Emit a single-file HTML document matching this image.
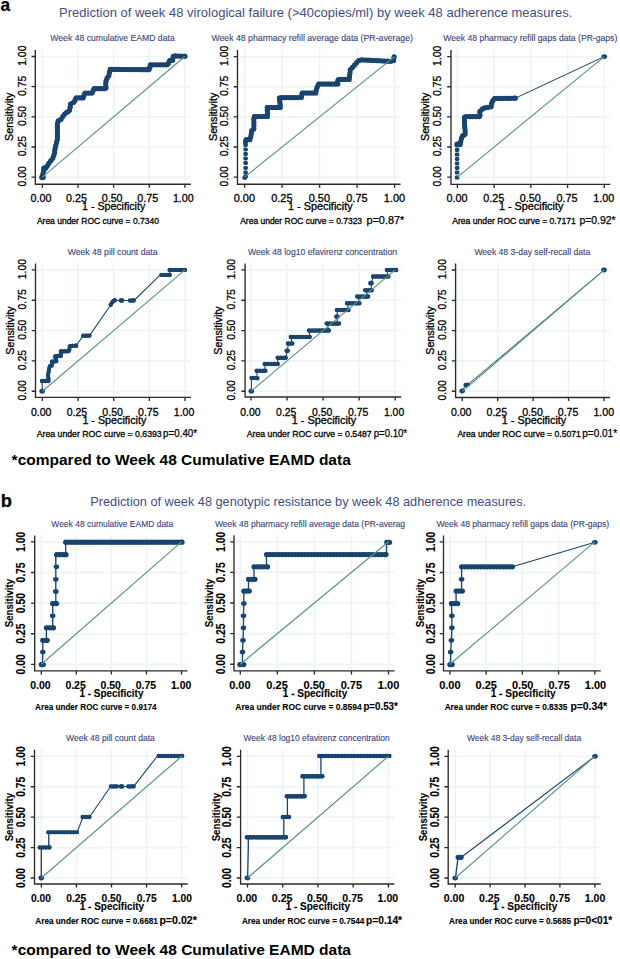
<!DOCTYPE html>
<html><head><meta charset="utf-8"><title>ROC curves</title><style>
html,body{margin:0;padding:0;background:#fff;}
svg{display:block;font-family:"Liberation Sans", sans-serif;}
</style></head><body>
<svg width="620" height="959" viewBox="0 0 620 959">
<rect width="620" height="959" fill="#fff"/>
<text x="0.6" y="11.3" font-size="18.2" fill="#000" stroke="#000" stroke-width="0.25" font-weight="bold" textLength="9.6" lengthAdjust="spacingAndGlyphs">a</text>
<text x="59" y="16.8" font-size="12.6" fill="#444e84" textLength="513.3" lengthAdjust="spacingAndGlyphs">Prediction of week 48 virological failure (&gt;40copies/ml) by week 48 adherence measures.</text>
<text x="11.6" y="465" font-size="14.9" fill="#000" font-weight="bold" textLength="339.2" lengthAdjust="spacingAndGlyphs">*compared to Week 48 Cumulative EAMD data</text>
<text x="0.8" y="506.9" font-size="18.3" fill="#000" stroke="#000" stroke-width="0.25" font-weight="bold">b</text>
<text x="90.3" y="506.2" font-size="12.6" fill="#444e84" textLength="435.8" lengthAdjust="spacingAndGlyphs">Prediction of week 48 genotypic resistance by week 48 adherence measures.</text>
<text x="11.6" y="954.8" font-size="14.9" fill="#000" font-weight="bold" textLength="339.4" lengthAdjust="spacingAndGlyphs">*compared to Week 48 Cumulative EAMD data</text>
<g>
<path d="M42.4 49.5V183.5M36 177.1H190.9M78.03 49.5V183.5M36 146.95H190.9M113.65 49.5V183.5M36 116.8H190.9M149.28 49.5V183.5M36 86.65H190.9M184.9 49.5V183.5M36 56.5H190.9" stroke="#eef4f6" stroke-width="1.6" fill="none"/>
<polyline points="42.5,177.2 43,173.5 44.1,168.8 46.5,167.4 48.5,163.8 51,160.5 52.8,158.2 54.4,153.9 55,149 56.1,144.1 57.4,139.2 57.4,134.3 57.4,129.6 57.3,124.7 57.8,121.2 60.7,119.7 62.7,116.7 65.7,112.8 69.2,111.3 70.1,107.8 70.6,103.9 74.6,101.9 75.6,97.9 83.5,97.9 84.4,93.1 92.6,93.1 93.5,88.7 106.1,88.7 105.6,82.9 106.6,79 109,75.2 110,69.4 149.5,69.7 150,64.8 167.9,64.8 169.4,60.5 172.7,60.5 173.2,55.9 185,56.3" fill="none" stroke="#19446e" stroke-width="4.3" stroke-linejoin="round" stroke-linecap="round"/>
<path d="M42.5 177.2h0M42.93 174.03h0M43.61 170.9h0M45 168.28h0M47.21 166.12h0M48.83 163.37h0M50.76 160.82h0M52.73 158.29h0M53.87 155.31h0M54.61 152.22h0M54.99 149.04h0M55.69 145.92h0M56.44 142.81h0M57.26 139.72h0M57.4 136.53h0M57.4 133.33h0M57.4 130.13h0M57.35 126.93h0M57.44 123.74h0M58.36 120.91h0M61.01 119.23h0M62.8 116.57h0M64.75 114.04h0M67.21 112.15h0M69.46 110.3h0M70.18 107.19h0M70.59 104.01h0M73.36 102.52h0M75.04 100.14h0M76.49 97.9h0M79.69 97.9h0M82.89 97.9h0M83.98 95.35h0M85.31 93.1h0M88.51 93.1h0M91.71 93.1h0M93.06 90.84h0M94.51 88.7h0M97.71 88.7h0M100.91 88.7h0M104.11 88.7h0M106 87.49h0M105.72 84.3h0M106.05 81.16h0M107.12 78.18h0M108.83 75.48h0M109.49 72.37h0M110.19 69.4h0M113.39 69.43h0M116.59 69.45h0M119.79 69.47h0M122.99 69.5h0M126.19 69.52h0M129.39 69.55h0M132.59 69.57h0M135.79 69.6h0M138.99 69.62h0M142.19 69.64h0M145.39 69.67h0M148.59 69.69h0M149.73 67.43h0M150.56 64.8h0M153.76 64.8h0M156.96 64.8h0M160.16 64.8h0M163.36 64.8h0M166.56 64.8h0M168.51 63.04h0M169.91 60.5h0M172.74 60.1h0M173.09 56.91h0M175.38 55.97h0M178.58 56.08h0M181.77 56.19h0M184.97 56.3h0M185 56.3h0" stroke="#19446e" stroke-width="5.2" stroke-linecap="round" fill="none"/>
<ellipse cx="42.5" cy="177.3" rx="3.3" ry="3" fill="#19446e"/>
<ellipse cx="44.6" cy="168.3" rx="3.3" ry="3" fill="#19446e"/>
<line x1="42.4" y1="177.1" x2="184.9" y2="56.5" stroke="#5d9589" stroke-width="1.2"/>
<path d="M35.3 50V184.2H190.9M31.5 177.1H35.3M42.4 184.2V187.8M31.5 146.95H35.3M78.03 184.2V187.8M31.5 116.8H35.3M113.65 184.2V187.8M31.5 86.65H35.3M149.28 184.2V187.8M31.5 56.5H35.3M184.9 184.2V187.8" stroke="#2a2a2a" stroke-width="1.35" fill="none"/>
<text transform="translate(25.6 176.3) rotate(-90)" font-size="10.9" fill="#000" stroke="#000" stroke-width="0.3" text-anchor="middle" textLength="20.2" lengthAdjust="spacingAndGlyphs">0.00</text>
<text transform="translate(25.6 146.15) rotate(-90)" font-size="10.9" fill="#000" stroke="#000" stroke-width="0.3" text-anchor="middle" textLength="20.2" lengthAdjust="spacingAndGlyphs">0.25</text>
<text transform="translate(25.6 116) rotate(-90)" font-size="10.9" fill="#000" stroke="#000" stroke-width="0.3" text-anchor="middle" textLength="20.2" lengthAdjust="spacingAndGlyphs">0.50</text>
<text transform="translate(25.6 85.85) rotate(-90)" font-size="10.9" fill="#000" stroke="#000" stroke-width="0.3" text-anchor="middle" textLength="20.2" lengthAdjust="spacingAndGlyphs">0.75</text>
<text transform="translate(25.6 55.7) rotate(-90)" font-size="10.9" fill="#000" stroke="#000" stroke-width="0.3" text-anchor="middle" textLength="20.2" lengthAdjust="spacingAndGlyphs">1.00</text>
<text transform="translate(13.4 116.8) rotate(-90)" font-size="10.9" fill="#000" stroke="#000" stroke-width="0.3" text-anchor="middle" textLength="48.4" lengthAdjust="spacingAndGlyphs">Sensitivity</text>
<text x="40.95" y="201.6" font-size="11" fill="#000" stroke="#000" stroke-width="0.3" text-anchor="middle" textLength="20.85" lengthAdjust="spacingAndGlyphs">0.00</text>
<text x="76.54" y="201.6" font-size="11" fill="#000" stroke="#000" stroke-width="0.3" text-anchor="middle" textLength="20.85" lengthAdjust="spacingAndGlyphs">0.25</text>
<text x="112.13" y="201.6" font-size="11" fill="#000" stroke="#000" stroke-width="0.3" text-anchor="middle" textLength="20.85" lengthAdjust="spacingAndGlyphs">0.50</text>
<text x="147.71" y="201.6" font-size="11" fill="#000" stroke="#000" stroke-width="0.3" text-anchor="middle" textLength="20.85" lengthAdjust="spacingAndGlyphs">0.75</text>
<text x="183.3" y="201.6" font-size="11" fill="#000" stroke="#000" stroke-width="0.3" text-anchor="middle" textLength="20.85" lengthAdjust="spacingAndGlyphs">1.00</text>
<text x="82.1" y="210" font-size="10.4" fill="#000" stroke="#000" stroke-width="0.3" textLength="63.1" lengthAdjust="spacingAndGlyphs">1 - Specificity</text>
<text x="36.9" y="223.9" font-size="8.9" fill="#000" stroke="#000" stroke-width="0.3" textLength="122" lengthAdjust="spacingAndGlyphs">Area under ROC curve = 0.7340</text>
<text x="50.3" y="41.4" font-size="9.6" fill="#3a4479" stroke="#3a4479" stroke-width="0.12" textLength="124.4" lengthAdjust="spacingAndGlyphs">Week 48 cumulative EAMD data</text>
</g>
<g>
<path d="M244.6 49.6V183.5M238.2 177.1H400.6M282.1 49.6V183.5M238.2 146.97H400.6M319.6 49.6V183.5M238.2 116.85H400.6M357.1 49.6V183.5M238.2 86.72H400.6M394.6 49.6V183.5M238.2 56.6H400.6" stroke="#eef4f6" stroke-width="1.6" fill="none"/>
<polyline points="245.5,141.8 245.5,139.7 250,139.7 251.1,135.2 251.7,130.6 253.9,129.5 253.9,116.5 267.5,116.5 267.5,111.5 266.9,107.5 280.5,107.5 279.9,102.4 279.3,97.7 301.8,97.5 301.8,93 315.9,93 316.5,88.5 318.7,84 337.9,84 337.9,79.4 349.2,79.4 349.8,74.4 350.3,69.8 354.3,65.3 358.2,60.8 360.8,59.8 390.2,61.3 393.5,60.9 394.1,56.9" fill="none" stroke="#19446e" stroke-width="4.3" stroke-linejoin="round" stroke-linecap="round"/>
<path d="M245.5 141.8h0M246.6 139.7h0M249.8 139.7h0M250.71 136.79h0M251.3 133.65h0M251.81 130.54h0M253.9 128.63h0M253.9 125.43h0M253.9 122.23h0M253.9 119.03h0M254.57 116.5h0M257.77 116.5h0M260.97 116.5h0M264.17 116.5h0M267.37 116.5h0M267.5 113.43h0M267.31 110.25h0M267.32 107.5h0M270.52 107.5h0M273.72 107.5h0M276.92 107.5h0M280.12 107.5h0M280.17 104.7h0M279.79 101.52h0M279.38 98.34h0M281.85 97.68h0M285.05 97.65h0M288.25 97.62h0M291.45 97.59h0M294.65 97.56h0M297.85 97.54h0M301.05 97.51h0M301.8 95.05h0M302.95 93h0M306.15 93h0M309.35 93h0M312.55 93h0M315.75 93h0M316.3 89.98h0M317.25 86.96h0M318.66 84.09h0M321.8 84h0M325 84h0M328.2 84h0M331.4 84h0M334.6 84h0M337.8 84h0M337.9 80.9h0M339.6 79.4h0M342.8 79.4h0M346 79.4h0M349.2 79.4h0M349.58 76.22h0M349.95 73.04h0M350.29 69.86h0M352.38 67.45h0M354.51 65.06h0M356.6 62.64h0M358.91 60.53h0M361.98 59.86h0M365.17 60.02h0M368.37 60.19h0M371.56 60.35h0M374.76 60.51h0M377.95 60.68h0M381.15 60.84h0M384.35 61h0M387.54 61.16h0M390.73 61.24h0M393.56 60.49h0M394.04 57.33h0M394.1 56.9h0" stroke="#19446e" stroke-width="5.2" stroke-linecap="round" fill="none"/>
<rect x="242.55" y="175.8" width="4.5" height="4.0" rx="1.4" fill="#19446e"/>
<rect x="243.55" y="174.2" width="4.5" height="4.0" rx="1.4" fill="#19446e"/>
<rect x="243.35" y="170.5" width="4.5" height="4.0" rx="1.4" fill="#19446e"/>
<rect x="243.35" y="165.9" width="4.5" height="4.0" rx="1.4" fill="#19446e"/>
<rect x="243.35" y="161.1" width="4.5" height="4.0" rx="1.4" fill="#19446e"/>
<rect x="243.35" y="156.4" width="4.5" height="4.0" rx="1.4" fill="#19446e"/>
<rect x="243.35" y="152" width="4.5" height="4.0" rx="1.4" fill="#19446e"/>
<rect x="243.35" y="147.5" width="4.5" height="4.0" rx="1.4" fill="#19446e"/>
<rect x="243.35" y="143" width="4.5" height="4.0" rx="1.4" fill="#19446e"/>
<line x1="244.6" y1="177.1" x2="394.6" y2="56.6" stroke="#5d9589" stroke-width="1.2"/>
<path d="M237.5 50.1V184.2H400.6M233.7 177.1H237.5M244.6 184.2V187.8M233.7 146.97H237.5M282.1 184.2V187.8M233.7 116.85H237.5M319.6 184.2V187.8M233.7 86.72H237.5M357.1 184.2V187.8M233.7 56.6H237.5M394.6 184.2V187.8" stroke="#2a2a2a" stroke-width="1.35" fill="none"/>
<text transform="translate(228.4 176.3) rotate(-90)" font-size="10.9" fill="#000" stroke="#000" stroke-width="0.3" text-anchor="middle" textLength="20.2" lengthAdjust="spacingAndGlyphs">0.00</text>
<text transform="translate(228.4 146.17) rotate(-90)" font-size="10.9" fill="#000" stroke="#000" stroke-width="0.3" text-anchor="middle" textLength="20.2" lengthAdjust="spacingAndGlyphs">0.25</text>
<text transform="translate(228.4 116.05) rotate(-90)" font-size="10.9" fill="#000" stroke="#000" stroke-width="0.3" text-anchor="middle" textLength="20.2" lengthAdjust="spacingAndGlyphs">0.50</text>
<text transform="translate(228.4 85.92) rotate(-90)" font-size="10.9" fill="#000" stroke="#000" stroke-width="0.3" text-anchor="middle" textLength="20.2" lengthAdjust="spacingAndGlyphs">0.75</text>
<text transform="translate(228.4 55.8) rotate(-90)" font-size="10.9" fill="#000" stroke="#000" stroke-width="0.3" text-anchor="middle" textLength="20.2" lengthAdjust="spacingAndGlyphs">1.00</text>
<text transform="translate(217.1 116.85) rotate(-90)" font-size="10.9" fill="#000" stroke="#000" stroke-width="0.3" text-anchor="middle" textLength="48.4" lengthAdjust="spacingAndGlyphs">Sensitivity</text>
<text x="244.35" y="201.6" font-size="11" fill="#000" stroke="#000" stroke-width="0.3" text-anchor="middle" textLength="21.3" lengthAdjust="spacingAndGlyphs">0.00</text>
<text x="281.88" y="201.6" font-size="11" fill="#000" stroke="#000" stroke-width="0.3" text-anchor="middle" textLength="21.3" lengthAdjust="spacingAndGlyphs">0.25</text>
<text x="319.4" y="201.6" font-size="11" fill="#000" stroke="#000" stroke-width="0.3" text-anchor="middle" textLength="21.3" lengthAdjust="spacingAndGlyphs">0.50</text>
<text x="356.93" y="201.6" font-size="11" fill="#000" stroke="#000" stroke-width="0.3" text-anchor="middle" textLength="21.3" lengthAdjust="spacingAndGlyphs">0.75</text>
<text x="394.45" y="201.6" font-size="11" fill="#000" stroke="#000" stroke-width="0.3" text-anchor="middle" textLength="21.3" lengthAdjust="spacingAndGlyphs">1.00</text>
<text x="288" y="210" font-size="10.4" fill="#000" stroke="#000" stroke-width="0.3" textLength="64.6" lengthAdjust="spacingAndGlyphs">1 - Specificity</text>
<text x="240.2" y="224" font-size="8.9" fill="#000" stroke="#000" stroke-width="0.3" textLength="121.9" lengthAdjust="spacingAndGlyphs">Area under ROC curve = 0.7323</text>
<text x="366.5" y="224" font-size="10.2" fill="#000" stroke="#000" stroke-width="0.25" textLength="37.7" lengthAdjust="spacingAndGlyphs">p=0.87*</text>
<text x="211.4" y="41.4" font-size="9.6" fill="#3a4479" stroke="#3a4479" stroke-width="0.12" textLength="201.6" lengthAdjust="spacingAndGlyphs">Week 48 pharmacy refill average data (PR-average)</text>
</g>
<g>
<path d="M457.4 49.6V183.6M451.7 177.1H610.3M494.12 49.6V183.6M451.7 146.97H610.3M530.85 49.6V183.6M451.7 116.85H610.3M567.57 49.6V183.6M451.7 86.72H610.3M604.3 49.6V183.6M451.7 56.6H610.3" stroke="#eef4f6" stroke-width="1.6" fill="none"/>
<polyline points="515.3,98.2 604.3,56.6" fill="none" stroke="#19446e" stroke-width="1" stroke-linejoin="round" stroke-linecap="round"/>
<polyline points="457,144.2 460.3,144.4 460.9,140.8 462.1,136 465.1,134.8 465.1,129.9 464.5,125.1 464.5,116.6 480.2,116.6 479.6,111.8 483.3,108.1 491.1,106.9 491.7,102.7 494.2,98.5 515.3,98.2" fill="none" stroke="#19446e" stroke-width="4.3" stroke-linejoin="round" stroke-linecap="round"/>
<path d="M457 144.2h0M460.19 144.39h0M460.81 141.35h0M461.54 138.23h0M462.93 135.67h0M465.1 133.93h0M465.1 130.73h0M464.81 127.55h0M464.5 124.37h0M464.5 121.17h0M464.5 117.97h0M466.33 116.6h0M469.53 116.6h0M472.73 116.6h0M475.93 116.6h0M479.13 116.6h0M479.94 114.49h0M479.95 111.45h0M482.21 109.19h0M484.94 107.85h0M488.1 107.36h0M491.12 106.74h0M491.58 103.57h0M492.89 100.7h0M494.84 98.49h0M498.04 98.45h0M501.24 98.4h0M504.43 98.35h0M507.63 98.31h0M510.83 98.26h0M514.03 98.22h0M515.3 98.2h0" stroke="#19446e" stroke-width="5.2" stroke-linecap="round" fill="none"/>
<rect x="454.85" y="175.6" width="4.5" height="4.0" rx="1.4" fill="#19446e"/>
<rect x="454.85" y="170.6" width="4.5" height="4.0" rx="1.4" fill="#19446e"/>
<rect x="454.85" y="165.9" width="4.5" height="4.0" rx="1.4" fill="#19446e"/>
<rect x="454.85" y="161.4" width="4.5" height="4.0" rx="1.4" fill="#19446e"/>
<rect x="454.85" y="157" width="4.5" height="4.0" rx="1.4" fill="#19446e"/>
<rect x="454.85" y="152.6" width="4.5" height="4.0" rx="1.4" fill="#19446e"/>
<rect x="454.85" y="148.1" width="4.5" height="4.0" rx="1.4" fill="#19446e"/>
<rect x="454.85" y="143.6" width="4.5" height="4.0" rx="1.4" fill="#19446e"/>
<ellipse cx="604.3" cy="56.6" rx="2.8" ry="2.4" fill="#19446e"/>
<line x1="457.4" y1="177.1" x2="604.3" y2="56.6" stroke="#5d9589" stroke-width="1.2"/>
<path d="M451 50.1V184.3H610.3M447.2 177.1H451M457.4 184.3V187.9M447.2 146.97H451M494.12 184.3V187.9M447.2 116.85H451M530.85 184.3V187.9M447.2 86.72H451M567.57 184.3V187.9M447.2 56.6H451M604.3 184.3V187.9" stroke="#2a2a2a" stroke-width="1.35" fill="none"/>
<text transform="translate(440.6 176.3) rotate(-90)" font-size="10.9" fill="#000" stroke="#000" stroke-width="0.3" text-anchor="middle" textLength="20.2" lengthAdjust="spacingAndGlyphs">0.00</text>
<text transform="translate(440.6 146.17) rotate(-90)" font-size="10.9" fill="#000" stroke="#000" stroke-width="0.3" text-anchor="middle" textLength="20.2" lengthAdjust="spacingAndGlyphs">0.25</text>
<text transform="translate(440.6 116.05) rotate(-90)" font-size="10.9" fill="#000" stroke="#000" stroke-width="0.3" text-anchor="middle" textLength="20.2" lengthAdjust="spacingAndGlyphs">0.50</text>
<text transform="translate(440.6 85.92) rotate(-90)" font-size="10.9" fill="#000" stroke="#000" stroke-width="0.3" text-anchor="middle" textLength="20.2" lengthAdjust="spacingAndGlyphs">0.75</text>
<text transform="translate(440.6 55.8) rotate(-90)" font-size="10.9" fill="#000" stroke="#000" stroke-width="0.3" text-anchor="middle" textLength="20.2" lengthAdjust="spacingAndGlyphs">1.00</text>
<text transform="translate(428.7 116.85) rotate(-90)" font-size="10.9" fill="#000" stroke="#000" stroke-width="0.3" text-anchor="middle" textLength="48.4" lengthAdjust="spacingAndGlyphs">Sensitivity</text>
<text x="457" y="201.6" font-size="11" fill="#000" stroke="#000" stroke-width="0.3" text-anchor="middle" textLength="21.05" lengthAdjust="spacingAndGlyphs">0.00</text>
<text x="493.69" y="201.6" font-size="11" fill="#000" stroke="#000" stroke-width="0.3" text-anchor="middle" textLength="21.05" lengthAdjust="spacingAndGlyphs">0.25</text>
<text x="530.38" y="201.6" font-size="11" fill="#000" stroke="#000" stroke-width="0.3" text-anchor="middle" textLength="21.05" lengthAdjust="spacingAndGlyphs">0.50</text>
<text x="567.06" y="201.6" font-size="11" fill="#000" stroke="#000" stroke-width="0.3" text-anchor="middle" textLength="21.05" lengthAdjust="spacingAndGlyphs">0.75</text>
<text x="603.75" y="201.6" font-size="11" fill="#000" stroke="#000" stroke-width="0.3" text-anchor="middle" textLength="21.05" lengthAdjust="spacingAndGlyphs">1.00</text>
<text x="498.9" y="209.8" font-size="10.4" fill="#000" stroke="#000" stroke-width="0.3" textLength="64.5" lengthAdjust="spacingAndGlyphs">1 - Specificity</text>
<text x="452.2" y="224.1" font-size="8.9" fill="#000" stroke="#000" stroke-width="0.3" textLength="123.7" lengthAdjust="spacingAndGlyphs">Area under ROC curve = 0.7171</text>
<text x="579.4" y="224.1" font-size="10.2" fill="#000" stroke="#000" stroke-width="0.25" textLength="36.3" lengthAdjust="spacingAndGlyphs">p=0.92*</text>
<text x="443.2" y="41.4" font-size="9.6" fill="#3a4479" stroke="#3a4479" stroke-width="0.12" textLength="174.1" lengthAdjust="spacingAndGlyphs">Week 48 pharmacy refill gaps data (PR-gaps)</text>
</g>
<g>
<path d="M42.4 262.9V396.6M36.2 391.2H191M78.05 262.9V396.6M36.2 360.88H191M113.7 262.9V396.6M36.2 330.55H191M149.35 262.9V396.6M36.2 300.22H191M185 262.9V396.6M36.2 269.9H191" stroke="#eef4f6" stroke-width="1.6" fill="none"/>
<polyline points="42.2,391.2 42.2,381" fill="none" stroke="#19446e" stroke-width="1.05" stroke-linejoin="round" stroke-linecap="round"/>
<polyline points="76.2,345.8 83.2,335.6" fill="none" stroke="#19446e" stroke-width="1.05" stroke-linejoin="round" stroke-linecap="round"/>
<polyline points="89.5,335.6 110.7,305" fill="none" stroke="#19446e" stroke-width="1.05" stroke-linejoin="round" stroke-linecap="round"/>
<polyline points="114,300.5 134,300.5 159.8,275.3" fill="none" stroke="#19446e" stroke-width="1.05" stroke-linejoin="round" stroke-linecap="round"/>
<polyline points="169.7,274.9 169.6,269.9" fill="none" stroke="#19446e" stroke-width="1.05" stroke-linejoin="round" stroke-linecap="round"/>
<polyline points="41.9,381 48.8,381 48,375.5 48.8,370.8 49.6,366.1 51.9,366.1 51.9,361.4 56.6,361.4 55,356 61.3,356 60.5,351.3 69.1,351.3 69.9,345.8 76.2,345.8" fill="none" stroke="#19446e" stroke-width="3.6" stroke-linejoin="round" stroke-linecap="round"/>
<path d="M41.9 381h0M45.1 381h0M48.3 381h0M48.41 378.33h0M48.06 375.16h0M48.59 372.01h0M49.13 368.85h0M50.01 366.1h0M51.9 364.79h0M51.9 361.59h0M54.91 361.4h0M56.17 359.96h0M55.26 356.89h0M57.27 356h0M60.47 356h0M60.9 353.66h0M61.31 351.3h0M64.51 351.3h0M67.71 351.3h0M69.36 349.51h0M69.82 346.34h0M72.55 345.8h0M75.75 345.8h0M76.2 345.8h0" stroke="#19446e" stroke-width="4.4" stroke-linecap="round" fill="none"/>
<polyline points="83.2,335.6 89.5,335.6" fill="none" stroke="#19446e" stroke-width="3.6" stroke-linejoin="round" stroke-linecap="round"/>
<path d="M83.2 335.6h0M86.4 335.6h0M89.5 335.6h0" stroke="#19446e" stroke-width="4.4" stroke-linecap="round" fill="none"/>
<polyline points="110.7,304.8 113.3,300.6 114.8,300.4" fill="none" stroke="#19446e" stroke-width="3.6" stroke-linejoin="round" stroke-linecap="round"/>
<path d="M110.7 304.8h0M112.38 302.08h0M114.75 300.41h0M114.8 300.4h0" stroke="#19446e" stroke-width="4.4" stroke-linecap="round" fill="none"/>
<polyline points="129.9,300.5 133.7,300.5" fill="none" stroke="#19446e" stroke-width="3.6" stroke-linejoin="round" stroke-linecap="round"/>
<path d="M129.9 300.5h0M133.1 300.5h0M133.7 300.5h0" stroke="#19446e" stroke-width="4.4" stroke-linecap="round" fill="none"/>
<polyline points="161.3,274.9 169.7,274.9" fill="none" stroke="#19446e" stroke-width="3.6" stroke-linejoin="round" stroke-linecap="round"/>
<path d="M161.3 274.9h0M164.5 274.9h0M167.7 274.9h0M169.7 274.9h0" stroke="#19446e" stroke-width="4.4" stroke-linecap="round" fill="none"/>
<polyline points="169.6,269.9 185,269.9" fill="none" stroke="#19446e" stroke-width="3.6" stroke-linejoin="round" stroke-linecap="round"/>
<path d="M169.6 269.9h0M172.8 269.9h0M176 269.9h0M179.2 269.9h0M182.4 269.9h0M185 269.9h0" stroke="#19446e" stroke-width="4.4" stroke-linecap="round" fill="none"/>
<ellipse cx="42.2" cy="391.2" rx="2.8" ry="2.4" fill="#19446e"/>
<ellipse cx="121.5" cy="300.5" rx="2.8" ry="2.4" fill="#19446e"/>
<line x1="42.4" y1="391.2" x2="185" y2="269.9" stroke="#5d9589" stroke-width="1.2"/>
<path d="M35.5 263.4V397.3H191M31.7 391.2H35.5M42.4 397.3V400.9M31.7 360.88H35.5M78.05 397.3V400.9M31.7 330.55H35.5M113.7 397.3V400.9M31.7 300.22H35.5M149.35 397.3V400.9M31.7 269.9H35.5M185 397.3V400.9" stroke="#2a2a2a" stroke-width="1.35" fill="none"/>
<text transform="translate(26.1 390.4) rotate(-90)" font-size="10.9" fill="#000" stroke="#000" stroke-width="0.3" text-anchor="middle" textLength="20.2" lengthAdjust="spacingAndGlyphs">0.00</text>
<text transform="translate(26.1 360.07) rotate(-90)" font-size="10.9" fill="#000" stroke="#000" stroke-width="0.3" text-anchor="middle" textLength="20.2" lengthAdjust="spacingAndGlyphs">0.25</text>
<text transform="translate(26.1 329.75) rotate(-90)" font-size="10.9" fill="#000" stroke="#000" stroke-width="0.3" text-anchor="middle" textLength="20.2" lengthAdjust="spacingAndGlyphs">0.50</text>
<text transform="translate(26.1 299.42) rotate(-90)" font-size="10.9" fill="#000" stroke="#000" stroke-width="0.3" text-anchor="middle" textLength="20.2" lengthAdjust="spacingAndGlyphs">0.75</text>
<text transform="translate(26.1 269.1) rotate(-90)" font-size="10.9" fill="#000" stroke="#000" stroke-width="0.3" text-anchor="middle" textLength="20.2" lengthAdjust="spacingAndGlyphs">1.00</text>
<text transform="translate(14.2 330.55) rotate(-90)" font-size="10.9" fill="#000" stroke="#000" stroke-width="0.3" text-anchor="middle" textLength="48.4" lengthAdjust="spacingAndGlyphs">Sensitivity</text>
<text x="41.2" y="415.9" font-size="11" fill="#000" stroke="#000" stroke-width="0.3" text-anchor="middle" textLength="20.55" lengthAdjust="spacingAndGlyphs">0.00</text>
<text x="76.91" y="415.9" font-size="11" fill="#000" stroke="#000" stroke-width="0.3" text-anchor="middle" textLength="20.55" lengthAdjust="spacingAndGlyphs">0.25</text>
<text x="112.63" y="415.9" font-size="11" fill="#000" stroke="#000" stroke-width="0.3" text-anchor="middle" textLength="20.55" lengthAdjust="spacingAndGlyphs">0.50</text>
<text x="148.34" y="415.9" font-size="11" fill="#000" stroke="#000" stroke-width="0.3" text-anchor="middle" textLength="20.55" lengthAdjust="spacingAndGlyphs">0.75</text>
<text x="184.05" y="415.9" font-size="11" fill="#000" stroke="#000" stroke-width="0.3" text-anchor="middle" textLength="20.55" lengthAdjust="spacingAndGlyphs">1.00</text>
<text x="82.4" y="424.3" font-size="10.4" fill="#000" stroke="#000" stroke-width="0.3" textLength="63.9" lengthAdjust="spacingAndGlyphs">1 - Specificity</text>
<text x="36.8" y="437.1" font-size="8.9" fill="#000" stroke="#000" stroke-width="0.3" textLength="124.9" lengthAdjust="spacingAndGlyphs">Area under ROC curve = 0.6393</text>
<text x="163.1" y="437.1" font-size="10.2" fill="#000" stroke="#000" stroke-width="0.25" textLength="34" lengthAdjust="spacingAndGlyphs">p=0.40*</text>
<text x="67.7" y="255.4" font-size="9.6" fill="#3a4479" stroke="#3a4479" stroke-width="0.12" textLength="89.8" lengthAdjust="spacingAndGlyphs">Week 48 pill count data</text>
</g>
<g>
<path d="M251 262.9V396.3M245.8 391.2H401.2M287.05 262.9V396.3M245.8 360.88H401.2M323.1 262.9V396.3M245.8 330.55H401.2M359.15 262.9V396.3M245.8 300.22H401.2M395.2 262.9V396.3M245.8 269.9H401.2" stroke="#eef4f6" stroke-width="1.6" fill="none"/>
<polyline points="251.3,391.2 251.6,377.7 257,377.9 257,370.8 265,370.8 265,363.9 277.7,363.9 277.7,357.8 285.7,357.8 287.2,350.8 288.5,343.5 291.5,343.5 291.5,337 309.5,337 309.5,330.5 328,330.5 328,323.6 337.5,323.6 336.9,316.6 337.5,310.1 348,310.1 348,303.3 358.5,303.3 358.5,296.6 366.5,296.6 366.5,290.2 371.5,290.2 371,283.2 373.5,276.4 387.5,276.4 387.5,269.9" fill="none" stroke="#19446e" stroke-width="1.05" stroke-linejoin="round" stroke-linecap="round"/>
<polyline points="251.6,377.9 257.4,378.2" fill="none" stroke="#19446e" stroke-width="3.6" stroke-linejoin="round" stroke-linecap="round"/>
<path d="M251.6 377.9h0M254.8 378.07h0M257.4 378.2h0" stroke="#19446e" stroke-width="4.5" stroke-linecap="round" fill="none"/>
<polyline points="256.7,370.8 265.4,370.8" fill="none" stroke="#19446e" stroke-width="3.6" stroke-linejoin="round" stroke-linecap="round"/>
<path d="M256.7 370.8h0M259.9 370.8h0M263.1 370.8h0M265.4 370.8h0" stroke="#19446e" stroke-width="4.5" stroke-linecap="round" fill="none"/>
<polyline points="264.7,363.9 277.7,363.9" fill="none" stroke="#19446e" stroke-width="3.6" stroke-linejoin="round" stroke-linecap="round"/>
<path d="M264.7 363.9h0M267.9 363.9h0M271.1 363.9h0M274.3 363.9h0M277.5 363.9h0M277.7 363.9h0" stroke="#19446e" stroke-width="4.5" stroke-linecap="round" fill="none"/>
<polyline points="277.7,357.8 285.7,357.8" fill="none" stroke="#19446e" stroke-width="3.6" stroke-linejoin="round" stroke-linecap="round"/>
<path d="M277.7 357.8h0M280.9 357.8h0M284.1 357.8h0M285.7 357.8h0" stroke="#19446e" stroke-width="4.5" stroke-linecap="round" fill="none"/>
<polyline points="287.9,343.5 292.3,343.5" fill="none" stroke="#19446e" stroke-width="3.6" stroke-linejoin="round" stroke-linecap="round"/>
<path d="M287.9 343.5h0M291.1 343.5h0M292.3 343.5h0" stroke="#19446e" stroke-width="4.5" stroke-linecap="round" fill="none"/>
<polyline points="290.8,337 309.7,337" fill="none" stroke="#19446e" stroke-width="3.6" stroke-linejoin="round" stroke-linecap="round"/>
<path d="M290.8 337h0M294 337h0M297.2 337h0M300.4 337h0M303.6 337h0M306.8 337h0M309.7 337h0" stroke="#19446e" stroke-width="4.5" stroke-linecap="round" fill="none"/>
<polyline points="309,330.5 328.9,330.4" fill="none" stroke="#19446e" stroke-width="3.6" stroke-linejoin="round" stroke-linecap="round"/>
<path d="M309 330.5h0M312.2 330.48h0M315.4 330.47h0M318.6 330.45h0M321.8 330.44h0M325 330.42h0M328.2 330.4h0M328.9 330.4h0" stroke="#19446e" stroke-width="4.5" stroke-linecap="round" fill="none"/>
<polyline points="326.7,323.6 339,323.6" fill="none" stroke="#19446e" stroke-width="3.6" stroke-linejoin="round" stroke-linecap="round"/>
<path d="M326.7 323.6h0M329.9 323.6h0M333.1 323.6h0M336.3 323.6h0M339 323.6h0" stroke="#19446e" stroke-width="4.5" stroke-linecap="round" fill="none"/>
<polyline points="336.9,310.1 348.5,310.1" fill="none" stroke="#19446e" stroke-width="3.6" stroke-linejoin="round" stroke-linecap="round"/>
<path d="M336.9 310.1h0M340.1 310.1h0M343.3 310.1h0M346.5 310.1h0M348.5 310.1h0" stroke="#19446e" stroke-width="4.5" stroke-linecap="round" fill="none"/>
<polyline points="347,303.3 359.4,303.3" fill="none" stroke="#19446e" stroke-width="3.6" stroke-linejoin="round" stroke-linecap="round"/>
<path d="M347 303.3h0M350.2 303.3h0M353.4 303.3h0M356.6 303.3h0M359.4 303.3h0" stroke="#19446e" stroke-width="4.5" stroke-linecap="round" fill="none"/>
<polyline points="357.2,296.6 368.1,296.6" fill="none" stroke="#19446e" stroke-width="3.6" stroke-linejoin="round" stroke-linecap="round"/>
<path d="M357.2 296.6h0M360.4 296.6h0M363.6 296.6h0M366.8 296.6h0M368.1 296.6h0" stroke="#19446e" stroke-width="4.5" stroke-linecap="round" fill="none"/>
<polyline points="365.2,290.2 371.7,290.2" fill="none" stroke="#19446e" stroke-width="3.6" stroke-linejoin="round" stroke-linecap="round"/>
<path d="M365.2 290.2h0M368.4 290.2h0M371.6 290.2h0M371.7 290.2h0" stroke="#19446e" stroke-width="4.5" stroke-linecap="round" fill="none"/>
<polyline points="373.1,276.4 388.4,276.4" fill="none" stroke="#19446e" stroke-width="3.6" stroke-linejoin="round" stroke-linecap="round"/>
<path d="M373.1 276.4h0M376.3 276.4h0M379.5 276.4h0M382.7 276.4h0M385.9 276.4h0M388.4 276.4h0" stroke="#19446e" stroke-width="4.5" stroke-linecap="round" fill="none"/>
<polyline points="386.9,269.9 396.2,269.9" fill="none" stroke="#19446e" stroke-width="3.6" stroke-linejoin="round" stroke-linecap="round"/>
<path d="M386.9 269.9h0M390.1 269.9h0M393.3 269.9h0M396.2 269.9h0" stroke="#19446e" stroke-width="4.5" stroke-linecap="round" fill="none"/>
<ellipse cx="251.3" cy="391.2" rx="2.8" ry="2.4" fill="#19446e"/>
<ellipse cx="287.2" cy="350.8" rx="2.8" ry="2.4" fill="#19446e"/>
<ellipse cx="336.9" cy="316.6" rx="2.8" ry="2.4" fill="#19446e"/>
<ellipse cx="371" cy="283.2" rx="2.8" ry="2.4" fill="#19446e"/>
<line x1="251" y1="391.2" x2="395.2" y2="269.9" stroke="#5d9589" stroke-width="1.2"/>
<path d="M245.1 263.4V397H401.2M241.3 391.2H245.1M251 397V400.6M241.3 360.88H245.1M287.05 397V400.6M241.3 330.55H245.1M323.1 397V400.6M241.3 300.22H245.1M359.15 397V400.6M241.3 269.9H245.1M395.2 397V400.6" stroke="#2a2a2a" stroke-width="1.35" fill="none"/>
<text transform="translate(234.5 390.4) rotate(-90)" font-size="10.9" fill="#000" stroke="#000" stroke-width="0.3" text-anchor="middle" textLength="20.2" lengthAdjust="spacingAndGlyphs">0.00</text>
<text transform="translate(234.5 360.07) rotate(-90)" font-size="10.9" fill="#000" stroke="#000" stroke-width="0.3" text-anchor="middle" textLength="20.2" lengthAdjust="spacingAndGlyphs">0.25</text>
<text transform="translate(234.5 329.75) rotate(-90)" font-size="10.9" fill="#000" stroke="#000" stroke-width="0.3" text-anchor="middle" textLength="20.2" lengthAdjust="spacingAndGlyphs">0.50</text>
<text transform="translate(234.5 299.42) rotate(-90)" font-size="10.9" fill="#000" stroke="#000" stroke-width="0.3" text-anchor="middle" textLength="20.2" lengthAdjust="spacingAndGlyphs">0.75</text>
<text transform="translate(234.5 269.1) rotate(-90)" font-size="10.9" fill="#000" stroke="#000" stroke-width="0.3" text-anchor="middle" textLength="20.2" lengthAdjust="spacingAndGlyphs">1.00</text>
<text transform="translate(221.9 330.55) rotate(-90)" font-size="10.9" fill="#000" stroke="#000" stroke-width="0.3" text-anchor="middle" textLength="48.4" lengthAdjust="spacingAndGlyphs">Sensitivity</text>
<text x="250.35" y="415.9" font-size="11" fill="#000" stroke="#000" stroke-width="0.3" text-anchor="middle" textLength="20.3" lengthAdjust="spacingAndGlyphs">0.00</text>
<text x="286.27" y="415.9" font-size="11" fill="#000" stroke="#000" stroke-width="0.3" text-anchor="middle" textLength="20.3" lengthAdjust="spacingAndGlyphs">0.25</text>
<text x="322.2" y="415.9" font-size="11" fill="#000" stroke="#000" stroke-width="0.3" text-anchor="middle" textLength="20.3" lengthAdjust="spacingAndGlyphs">0.50</text>
<text x="358.12" y="415.9" font-size="11" fill="#000" stroke="#000" stroke-width="0.3" text-anchor="middle" textLength="20.3" lengthAdjust="spacingAndGlyphs">0.75</text>
<text x="394.05" y="415.9" font-size="11" fill="#000" stroke="#000" stroke-width="0.3" text-anchor="middle" textLength="20.3" lengthAdjust="spacingAndGlyphs">1.00</text>
<text x="291.8" y="424.3" font-size="10.4" fill="#000" stroke="#000" stroke-width="0.3" textLength="64.5" lengthAdjust="spacingAndGlyphs">1 - Specificity</text>
<text x="246.8" y="437.1" font-size="8.9" fill="#000" stroke="#000" stroke-width="0.3" textLength="124.9" lengthAdjust="spacingAndGlyphs">Area under ROC curve = 0.5487</text>
<text x="373.7" y="437.1" font-size="10.2" fill="#000" stroke="#000" stroke-width="0.25" textLength="33.4" lengthAdjust="spacingAndGlyphs">p=0.10*</text>
<text x="247.9" y="254.8" font-size="9.6" fill="#3a4479" stroke="#3a4479" stroke-width="0.12" textLength="149.1" lengthAdjust="spacingAndGlyphs">Week 48 log10 efavirenz concentration</text>
</g>
<g>
<path d="M462.3 263V396.8M456.3 391.2H610M497.73 263V396.8M456.3 360.9H610M533.15 263V396.8M456.3 330.6H610M568.58 263V396.8M456.3 300.3H610M604 263V396.8M456.3 270H610" stroke="#eef4f6" stroke-width="1.6" fill="none"/>
<polyline points="462.2,391 465.6,385" fill="none" stroke="#19446e" stroke-width="0.9" stroke-linejoin="round" stroke-linecap="round"/>
<polyline points="467.7,384.7 604,270" fill="none" stroke="#19446e" stroke-width="0.9" stroke-linejoin="round" stroke-linecap="round"/>
<polyline points="465.6,385 467.7,384.7" fill="none" stroke="#19446e" stroke-width="3.6" stroke-linejoin="round" stroke-linecap="round"/>
<path d="M465.6 385h0M467.7 384.7h0" stroke="#19446e" stroke-width="4.4" stroke-linecap="round" fill="none"/>
<ellipse cx="462.2" cy="391" rx="2.8" ry="2.4" fill="#19446e"/>
<ellipse cx="604" cy="270" rx="2.8" ry="2.4" fill="#19446e"/>
<line x1="462.3" y1="391.2" x2="604" y2="270" stroke="#5d9589" stroke-width="1.2"/>
<path d="M455.6 263.5V397.5H610M451.8 391.2H455.6M462.3 397.5V401.1M451.8 360.9H455.6M497.73 397.5V401.1M451.8 330.6H455.6M533.15 397.5V401.1M451.8 300.3H455.6M568.58 397.5V401.1M451.8 270H455.6M604 397.5V401.1" stroke="#2a2a2a" stroke-width="1.35" fill="none"/>
<text transform="translate(446.1 390.4) rotate(-90)" font-size="10.9" fill="#000" stroke="#000" stroke-width="0.3" text-anchor="middle" textLength="20.2" lengthAdjust="spacingAndGlyphs">0.00</text>
<text transform="translate(446.1 360.1) rotate(-90)" font-size="10.9" fill="#000" stroke="#000" stroke-width="0.3" text-anchor="middle" textLength="20.2" lengthAdjust="spacingAndGlyphs">0.25</text>
<text transform="translate(446.1 329.8) rotate(-90)" font-size="10.9" fill="#000" stroke="#000" stroke-width="0.3" text-anchor="middle" textLength="20.2" lengthAdjust="spacingAndGlyphs">0.50</text>
<text transform="translate(446.1 299.5) rotate(-90)" font-size="10.9" fill="#000" stroke="#000" stroke-width="0.3" text-anchor="middle" textLength="20.2" lengthAdjust="spacingAndGlyphs">0.75</text>
<text transform="translate(446.1 269.2) rotate(-90)" font-size="10.9" fill="#000" stroke="#000" stroke-width="0.3" text-anchor="middle" textLength="20.2" lengthAdjust="spacingAndGlyphs">1.00</text>
<text transform="translate(434.2 330.6) rotate(-90)" font-size="10.9" fill="#000" stroke="#000" stroke-width="0.3" text-anchor="middle" textLength="48.4" lengthAdjust="spacingAndGlyphs">Sensitivity</text>
<text x="461.2" y="415.9" font-size="11" fill="#000" stroke="#000" stroke-width="0.3" text-anchor="middle" textLength="20.65" lengthAdjust="spacingAndGlyphs">0.00</text>
<text x="496.84" y="415.9" font-size="11" fill="#000" stroke="#000" stroke-width="0.3" text-anchor="middle" textLength="20.65" lengthAdjust="spacingAndGlyphs">0.25</text>
<text x="532.48" y="415.9" font-size="11" fill="#000" stroke="#000" stroke-width="0.3" text-anchor="middle" textLength="20.65" lengthAdjust="spacingAndGlyphs">0.50</text>
<text x="568.11" y="415.9" font-size="11" fill="#000" stroke="#000" stroke-width="0.3" text-anchor="middle" textLength="20.65" lengthAdjust="spacingAndGlyphs">0.75</text>
<text x="603.75" y="415.9" font-size="11" fill="#000" stroke="#000" stroke-width="0.3" text-anchor="middle" textLength="20.65" lengthAdjust="spacingAndGlyphs">1.00</text>
<text x="501.8" y="424.3" font-size="10.4" fill="#000" stroke="#000" stroke-width="0.3" textLength="64.5" lengthAdjust="spacingAndGlyphs">1 - Specificity</text>
<text x="457.4" y="437.1" font-size="8.9" fill="#000" stroke="#000" stroke-width="0.3" textLength="123.4" lengthAdjust="spacingAndGlyphs">Area under ROC curve = 0.5071</text>
<text x="582.3" y="437.1" font-size="10.2" fill="#000" stroke="#000" stroke-width="0.25" textLength="34.8" lengthAdjust="spacingAndGlyphs">p=0.01*</text>
<text x="474.4" y="255.4" font-size="9.6" fill="#3a4479" stroke="#3a4479" stroke-width="0.12" textLength="115.8" lengthAdjust="spacingAndGlyphs">Week 48 3-day self-recall data</text>
</g>
<g>
<path d="M41.3 534.9V670.2M35.4 664.3H187.5M76.35 534.9V670.2M35.4 633.7H187.5M111.4 534.9V670.2M35.4 603.1H187.5M146.45 534.9V670.2M35.4 572.5H187.5M181.5 534.9V670.2M35.4 541.9H187.5" stroke="#eef4f6" stroke-width="1.6" fill="none"/>
<polyline points="42.5,664.6 42.8,652.1 42.8,640.3" fill="none" stroke="#19446e" stroke-width="1.35" stroke-linejoin="round" stroke-linecap="round"/>
<polyline points="46.4,640.3 46.4,627.8" fill="none" stroke="#19446e" stroke-width="1.35" stroke-linejoin="round" stroke-linecap="round"/>
<polyline points="52.7,627.8 52.7,603.6" fill="none" stroke="#19446e" stroke-width="1.35" stroke-linejoin="round" stroke-linecap="round"/>
<polyline points="55.8,603.6 55.8,554.7" fill="none" stroke="#19446e" stroke-width="1.35" stroke-linejoin="round" stroke-linecap="round"/>
<polyline points="65.7,554.7 65.7,542.2" fill="none" stroke="#19446e" stroke-width="1.35" stroke-linejoin="round" stroke-linecap="round"/>
<polyline points="41.3,664.6 43.3,664.6" fill="none" stroke="#19446e" stroke-width="4.3" stroke-linejoin="round" stroke-linecap="round"/>
<path d="M41.3 664.6h0M43.3 664.6h0" stroke="#19446e" stroke-width="5.2" stroke-linecap="round" fill="none"/>
<polyline points="42.8,640.3 47.2,640.3" fill="none" stroke="#19446e" stroke-width="4.3" stroke-linejoin="round" stroke-linecap="round"/>
<path d="M42.8 640.3h0M46 640.3h0M47.2 640.3h0" stroke="#19446e" stroke-width="5.2" stroke-linecap="round" fill="none"/>
<polyline points="46.4,627.8 53.5,627.8" fill="none" stroke="#19446e" stroke-width="4.3" stroke-linejoin="round" stroke-linecap="round"/>
<path d="M46.4 627.8h0M49.6 627.8h0M52.8 627.8h0M53.5 627.8h0" stroke="#19446e" stroke-width="5.2" stroke-linecap="round" fill="none"/>
<polyline points="52.7,603.6 56.6,603.6" fill="none" stroke="#19446e" stroke-width="4.3" stroke-linejoin="round" stroke-linecap="round"/>
<path d="M52.7 603.6h0M55.9 603.6h0M56.6 603.6h0" stroke="#19446e" stroke-width="5.2" stroke-linecap="round" fill="none"/>
<polyline points="56.6,554.7 66,554.7" fill="none" stroke="#19446e" stroke-width="4.3" stroke-linejoin="round" stroke-linecap="round"/>
<path d="M56.6 554.7h0M59.8 554.7h0M63 554.7h0M66 554.7h0" stroke="#19446e" stroke-width="5.2" stroke-linecap="round" fill="none"/>
<polyline points="65.7,542.2 182,542.2" fill="none" stroke="#19446e" stroke-width="4.3" stroke-linejoin="round" stroke-linecap="round"/>
<path d="M65.7 542.2h0M68.9 542.2h0M72.1 542.2h0M75.3 542.2h0M78.5 542.2h0M81.7 542.2h0M84.9 542.2h0M88.1 542.2h0M91.3 542.2h0M94.5 542.2h0M97.7 542.2h0M100.9 542.2h0M104.1 542.2h0M107.3 542.2h0M110.5 542.2h0M113.7 542.2h0M116.9 542.2h0M120.1 542.2h0M123.3 542.2h0M126.5 542.2h0M129.7 542.2h0M132.9 542.2h0M136.1 542.2h0M139.3 542.2h0M142.5 542.2h0M145.7 542.2h0M148.9 542.2h0M152.1 542.2h0M155.3 542.2h0M158.5 542.2h0M161.7 542.2h0M164.9 542.2h0M168.1 542.2h0M171.3 542.2h0M174.5 542.2h0M177.7 542.2h0M180.9 542.2h0M182 542.2h0" stroke="#19446e" stroke-width="5.2" stroke-linecap="round" fill="none"/>
<ellipse cx="42.8" cy="652.1" rx="2.8" ry="2.4" fill="#19446e"/>
<ellipse cx="52.7" cy="615.8" rx="2.8" ry="2.4" fill="#19446e"/>
<ellipse cx="55.8" cy="591.4" rx="2.8" ry="2.4" fill="#19446e"/>
<ellipse cx="55.8" cy="579.3" rx="2.8" ry="2.4" fill="#19446e"/>
<ellipse cx="56.4" cy="566.8" rx="2.8" ry="2.4" fill="#19446e"/>
<line x1="41.3" y1="664.3" x2="181.5" y2="541.9" stroke="#5d9589" stroke-width="1.2"/>
<path d="M34.7 535.4V670.9H187.5M30.9 664.3H34.7M41.3 670.9V674.5M30.9 633.7H34.7M76.35 670.9V674.5M30.9 603.1H34.7M111.4 670.9V674.5M30.9 572.5H34.7M146.45 670.9V674.5M30.9 541.9H34.7M181.5 670.9V674.5" stroke="#2a2a2a" stroke-width="1.35" fill="none"/>
<text transform="translate(25.3 664.3) rotate(-90)" font-size="12" fill="#000" stroke="#000" stroke-width="0.12" font-weight="bold" text-anchor="middle" textLength="20.2" lengthAdjust="spacingAndGlyphs">0.00</text>
<text transform="translate(25.3 633.7) rotate(-90)" font-size="12" fill="#000" stroke="#000" stroke-width="0.12" font-weight="bold" text-anchor="middle" textLength="20.2" lengthAdjust="spacingAndGlyphs">0.25</text>
<text transform="translate(25.3 603.1) rotate(-90)" font-size="12" fill="#000" stroke="#000" stroke-width="0.12" font-weight="bold" text-anchor="middle" textLength="20.2" lengthAdjust="spacingAndGlyphs">0.50</text>
<text transform="translate(25.3 572.5) rotate(-90)" font-size="12" fill="#000" stroke="#000" stroke-width="0.12" font-weight="bold" text-anchor="middle" textLength="20.2" lengthAdjust="spacingAndGlyphs">0.75</text>
<text transform="translate(25.3 541.9) rotate(-90)" font-size="12" fill="#000" stroke="#000" stroke-width="0.12" font-weight="bold" text-anchor="middle" textLength="20.2" lengthAdjust="spacingAndGlyphs">1.00</text>
<text transform="translate(12.8 603.1) rotate(-90)" font-size="10.9" fill="#000" stroke="#000" stroke-width="0.12" font-weight="bold" text-anchor="middle" textLength="48.4" lengthAdjust="spacingAndGlyphs">Sensitivity</text>
<text x="40.35" y="689.2" font-size="11.8" fill="#000" stroke="#000" stroke-width="0.12" font-weight="bold" text-anchor="middle" textLength="20.3" lengthAdjust="spacingAndGlyphs">0.00</text>
<text x="75.55" y="689.2" font-size="11.8" fill="#000" stroke="#000" stroke-width="0.12" font-weight="bold" text-anchor="middle" textLength="20.3" lengthAdjust="spacingAndGlyphs">0.25</text>
<text x="110.75" y="689.2" font-size="11.8" fill="#000" stroke="#000" stroke-width="0.12" font-weight="bold" text-anchor="middle" textLength="20.3" lengthAdjust="spacingAndGlyphs">0.50</text>
<text x="145.95" y="689.2" font-size="11.8" fill="#000" stroke="#000" stroke-width="0.12" font-weight="bold" text-anchor="middle" textLength="20.3" lengthAdjust="spacingAndGlyphs">0.75</text>
<text x="181.15" y="689.2" font-size="11.8" fill="#000" stroke="#000" stroke-width="0.12" font-weight="bold" text-anchor="middle" textLength="20.3" lengthAdjust="spacingAndGlyphs">1.00</text>
<text x="79.5" y="697.2" font-size="11.2" fill="#000" stroke="#000" stroke-width="0.12" font-weight="bold" textLength="63.9" lengthAdjust="spacingAndGlyphs">1 - Specificity</text>
<text x="35.1" y="710.3" font-size="8.9" fill="#000" stroke="#000" stroke-width="0.12" font-weight="bold" textLength="121.4" lengthAdjust="spacingAndGlyphs">Area under ROC curve = 0.9174</text>
<text x="51.3" y="527.3" font-size="9.6" fill="#3a4479" stroke="#3a4479" stroke-width="0.12" textLength="121.9" lengthAdjust="spacingAndGlyphs">Week 48 cumulative EAMD data</text>
</g>
<g>
<path d="M240.3 534.8V670.1M234.7 664.2H394.5M277.35 534.8V670.1M234.7 633.6H394.5M314.4 534.8V670.1M234.7 603H394.5M351.45 534.8V670.1M234.7 572.4H394.5M388.5 534.8V670.1M234.7 541.8H394.5" stroke="#eef4f6" stroke-width="1.6" fill="none"/>
<polyline points="242.5,664.6 242.5,652.1 243,640.3 243.5,627.8 243.5,615.8 243.8,603.6 243.8,591" fill="none" stroke="#19446e" stroke-width="1.35" stroke-linejoin="round" stroke-linecap="round"/>
<polyline points="248.5,591 248.5,579.3" fill="none" stroke="#19446e" stroke-width="1.35" stroke-linejoin="round" stroke-linecap="round"/>
<polyline points="254,579.3 254,566.8" fill="none" stroke="#19446e" stroke-width="1.35" stroke-linejoin="round" stroke-linecap="round"/>
<polyline points="266.5,566.8 266.5,554.6" fill="none" stroke="#19446e" stroke-width="1.35" stroke-linejoin="round" stroke-linecap="round"/>
<polyline points="386.5,554.6 386.5,542.3" fill="none" stroke="#19446e" stroke-width="1.35" stroke-linejoin="round" stroke-linecap="round"/>
<polyline points="239.9,664.6 243.8,664.6" fill="none" stroke="#19446e" stroke-width="4.3" stroke-linejoin="round" stroke-linecap="round"/>
<path d="M239.9 664.6h0M243.1 664.6h0M243.8 664.6h0" stroke="#19446e" stroke-width="5.2" stroke-linecap="round" fill="none"/>
<polyline points="243.8,591 249.3,591" fill="none" stroke="#19446e" stroke-width="4.3" stroke-linejoin="round" stroke-linecap="round"/>
<path d="M243.8 591h0M247 591h0M249.3 591h0" stroke="#19446e" stroke-width="5.2" stroke-linecap="round" fill="none"/>
<polyline points="248.5,579.3 255,579.3" fill="none" stroke="#19446e" stroke-width="4.3" stroke-linejoin="round" stroke-linecap="round"/>
<path d="M248.5 579.3h0M251.7 579.3h0M254.9 579.3h0M255 579.3h0" stroke="#19446e" stroke-width="5.2" stroke-linecap="round" fill="none"/>
<polyline points="254,566.8 267.6,566.8" fill="none" stroke="#19446e" stroke-width="4.3" stroke-linejoin="round" stroke-linecap="round"/>
<path d="M254 566.8h0M257.2 566.8h0M260.4 566.8h0M263.6 566.8h0M266.8 566.8h0M267.6 566.8h0" stroke="#19446e" stroke-width="5.2" stroke-linecap="round" fill="none"/>
<polyline points="266.5,554.6 386,554.6" fill="none" stroke="#19446e" stroke-width="4.3" stroke-linejoin="round" stroke-linecap="round"/>
<path d="M266.5 554.6h0M269.7 554.6h0M272.9 554.6h0M276.1 554.6h0M279.3 554.6h0M282.5 554.6h0M285.7 554.6h0M288.9 554.6h0M292.1 554.6h0M295.3 554.6h0M298.5 554.6h0M301.7 554.6h0M304.9 554.6h0M308.1 554.6h0M311.3 554.6h0M314.5 554.6h0M317.7 554.6h0M320.9 554.6h0M324.1 554.6h0M327.3 554.6h0M330.5 554.6h0M333.7 554.6h0M336.9 554.6h0M340.1 554.6h0M343.3 554.6h0M346.5 554.6h0M349.7 554.6h0M352.9 554.6h0M356.1 554.6h0M359.3 554.6h0M362.5 554.6h0M365.7 554.6h0M368.9 554.6h0M372.1 554.6h0M375.3 554.6h0M378.5 554.6h0M381.7 554.6h0M384.9 554.6h0M386 554.6h0" stroke="#19446e" stroke-width="5.2" stroke-linecap="round" fill="none"/>
<polyline points="386.8,542.3 389.5,542.3" fill="none" stroke="#19446e" stroke-width="4.3" stroke-linejoin="round" stroke-linecap="round"/>
<path d="M386.8 542.3h0M389.5 542.3h0" stroke="#19446e" stroke-width="5.2" stroke-linecap="round" fill="none"/>
<ellipse cx="242.5" cy="652.1" rx="2.8" ry="2.4" fill="#19446e"/>
<ellipse cx="243" cy="640.3" rx="2.8" ry="2.4" fill="#19446e"/>
<ellipse cx="243.5" cy="627.8" rx="2.8" ry="2.4" fill="#19446e"/>
<ellipse cx="243.5" cy="615.8" rx="2.8" ry="2.4" fill="#19446e"/>
<ellipse cx="243.8" cy="603.6" rx="2.8" ry="2.4" fill="#19446e"/>
<line x1="240.3" y1="664.2" x2="388.5" y2="541.8" stroke="#5d9589" stroke-width="1.2"/>
<path d="M234 535.3V670.8H394.5M230.2 664.2H234M240.3 670.8V674.4M230.2 633.6H234M277.35 670.8V674.4M230.2 603H234M314.4 670.8V674.4M230.2 572.4H234M351.45 670.8V674.4M230.2 541.8H234M388.5 670.8V674.4" stroke="#2a2a2a" stroke-width="1.35" fill="none"/>
<text transform="translate(224.8 664.2) rotate(-90)" font-size="12" fill="#000" stroke="#000" stroke-width="0.12" font-weight="bold" text-anchor="middle" textLength="20.2" lengthAdjust="spacingAndGlyphs">0.00</text>
<text transform="translate(224.8 633.6) rotate(-90)" font-size="12" fill="#000" stroke="#000" stroke-width="0.12" font-weight="bold" text-anchor="middle" textLength="20.2" lengthAdjust="spacingAndGlyphs">0.25</text>
<text transform="translate(224.8 603) rotate(-90)" font-size="12" fill="#000" stroke="#000" stroke-width="0.12" font-weight="bold" text-anchor="middle" textLength="20.2" lengthAdjust="spacingAndGlyphs">0.50</text>
<text transform="translate(224.8 572.4) rotate(-90)" font-size="12" fill="#000" stroke="#000" stroke-width="0.12" font-weight="bold" text-anchor="middle" textLength="20.2" lengthAdjust="spacingAndGlyphs">0.75</text>
<text transform="translate(224.8 541.8) rotate(-90)" font-size="12" fill="#000" stroke="#000" stroke-width="0.12" font-weight="bold" text-anchor="middle" textLength="20.2" lengthAdjust="spacingAndGlyphs">1.00</text>
<text transform="translate(213.2 603) rotate(-90)" font-size="10.9" fill="#000" stroke="#000" stroke-width="0.12" font-weight="bold" text-anchor="middle" textLength="48.4" lengthAdjust="spacingAndGlyphs">Sensitivity</text>
<text x="239.9" y="688.7" font-size="11.8" fill="#000" stroke="#000" stroke-width="0.12" font-weight="bold" text-anchor="middle" textLength="21.45" lengthAdjust="spacingAndGlyphs">0.00</text>
<text x="277.06" y="688.7" font-size="11.8" fill="#000" stroke="#000" stroke-width="0.12" font-weight="bold" text-anchor="middle" textLength="21.45" lengthAdjust="spacingAndGlyphs">0.25</text>
<text x="314.23" y="688.7" font-size="11.8" fill="#000" stroke="#000" stroke-width="0.12" font-weight="bold" text-anchor="middle" textLength="21.45" lengthAdjust="spacingAndGlyphs">0.50</text>
<text x="351.39" y="688.7" font-size="11.8" fill="#000" stroke="#000" stroke-width="0.12" font-weight="bold" text-anchor="middle" textLength="21.45" lengthAdjust="spacingAndGlyphs">0.75</text>
<text x="388.55" y="688.7" font-size="11.8" fill="#000" stroke="#000" stroke-width="0.12" font-weight="bold" text-anchor="middle" textLength="21.45" lengthAdjust="spacingAndGlyphs">1.00</text>
<text x="282.8" y="697.1" font-size="11.2" fill="#000" stroke="#000" stroke-width="0.12" font-weight="bold" textLength="64.4" lengthAdjust="spacingAndGlyphs">1 - Specificity</text>
<text x="235.3" y="710.3" font-size="8.9" fill="#000" stroke="#000" stroke-width="0.12" font-weight="bold" textLength="126.3" lengthAdjust="spacingAndGlyphs">Area under ROC curve = 0.8594</text>
<text x="363.4" y="710.3" font-size="10.6" fill="#000" stroke="#000" stroke-width="0.12" font-weight="bold" textLength="34.4" lengthAdjust="spacingAndGlyphs">p=0.53*</text>
<text x="214.9" y="526.6" font-size="9.6" fill="#3a4479" stroke="#3a4479" stroke-width="0.12" textLength="190.2" lengthAdjust="spacingAndGlyphs">Week 48 pharmacy refill average data (PR-averag</text>
</g>
<g>
<path d="M449.9 534.9V670.1M444.2 664.2H600.8M486.12 534.9V670.1M444.2 633.62H600.8M522.35 534.9V670.1M444.2 603.05H600.8M558.57 534.9V670.1M444.2 572.48H600.8M594.8 534.9V670.1M444.2 541.9H600.8" stroke="#eef4f6" stroke-width="1.6" fill="none"/>
<polyline points="450.6,664.6 450.6,652.1 451.4,640.3 451.9,627.8 451.9,615.8 451.4,603.6" fill="none" stroke="#19446e" stroke-width="1.35" stroke-linejoin="round" stroke-linecap="round"/>
<polyline points="456.1,603.6 456.1,591" fill="none" stroke="#19446e" stroke-width="1.35" stroke-linejoin="round" stroke-linecap="round"/>
<polyline points="461.6,591 461.6,566.8" fill="none" stroke="#19446e" stroke-width="1.35" stroke-linejoin="round" stroke-linecap="round"/>
<polyline points="512.4,566.7 594.9,542.3" fill="none" stroke="#19446e" stroke-width="1.1" stroke-linejoin="round" stroke-linecap="round"/>
<polyline points="449.9,664.6 452.2,664.6" fill="none" stroke="#19446e" stroke-width="4.3" stroke-linejoin="round" stroke-linecap="round"/>
<path d="M449.9 664.6h0M452.2 664.6h0" stroke="#19446e" stroke-width="5.2" stroke-linecap="round" fill="none"/>
<polyline points="451.4,603.6 457.7,603.6" fill="none" stroke="#19446e" stroke-width="4.3" stroke-linejoin="round" stroke-linecap="round"/>
<path d="M451.4 603.6h0M454.6 603.6h0M457.7 603.6h0" stroke="#19446e" stroke-width="5.2" stroke-linecap="round" fill="none"/>
<polyline points="456.1,591 462.4,591" fill="none" stroke="#19446e" stroke-width="4.3" stroke-linejoin="round" stroke-linecap="round"/>
<path d="M456.1 591h0M459.3 591h0M462.4 591h0" stroke="#19446e" stroke-width="5.2" stroke-linecap="round" fill="none"/>
<polyline points="461.6,566.8 512.4,566.8" fill="none" stroke="#19446e" stroke-width="4.3" stroke-linejoin="round" stroke-linecap="round"/>
<path d="M461.6 566.8h0M464.8 566.8h0M468 566.8h0M471.2 566.8h0M474.4 566.8h0M477.6 566.8h0M480.8 566.8h0M484 566.8h0M487.2 566.8h0M490.4 566.8h0M493.6 566.8h0M496.8 566.8h0M500 566.8h0M503.2 566.8h0M506.4 566.8h0M509.6 566.8h0M512.4 566.8h0" stroke="#19446e" stroke-width="5.2" stroke-linecap="round" fill="none"/>
<ellipse cx="450.6" cy="652.1" rx="2.8" ry="2.4" fill="#19446e"/>
<ellipse cx="451.4" cy="640.3" rx="2.8" ry="2.4" fill="#19446e"/>
<ellipse cx="451.9" cy="627.8" rx="2.8" ry="2.4" fill="#19446e"/>
<ellipse cx="451.9" cy="615.8" rx="2.8" ry="2.4" fill="#19446e"/>
<ellipse cx="461.6" cy="579.3" rx="2.8" ry="2.4" fill="#19446e"/>
<ellipse cx="594.9" cy="542.3" rx="2.8" ry="2.4" fill="#19446e"/>
<line x1="449.9" y1="664.2" x2="594.8" y2="541.9" stroke="#5d9589" stroke-width="1.2"/>
<path d="M443.5 535.4V670.8H600.8M439.7 664.2H443.5M449.9 670.8V674.4M439.7 633.62H443.5M486.12 670.8V674.4M439.7 603.05H443.5M522.35 670.8V674.4M439.7 572.48H443.5M558.57 670.8V674.4M439.7 541.9H443.5M594.8 670.8V674.4" stroke="#2a2a2a" stroke-width="1.35" fill="none"/>
<text transform="translate(434.5 664.2) rotate(-90)" font-size="12" fill="#000" stroke="#000" stroke-width="0.12" font-weight="bold" text-anchor="middle" textLength="20.2" lengthAdjust="spacingAndGlyphs">0.00</text>
<text transform="translate(434.5 633.62) rotate(-90)" font-size="12" fill="#000" stroke="#000" stroke-width="0.12" font-weight="bold" text-anchor="middle" textLength="20.2" lengthAdjust="spacingAndGlyphs">0.25</text>
<text transform="translate(434.5 603.05) rotate(-90)" font-size="12" fill="#000" stroke="#000" stroke-width="0.12" font-weight="bold" text-anchor="middle" textLength="20.2" lengthAdjust="spacingAndGlyphs">0.50</text>
<text transform="translate(434.5 572.48) rotate(-90)" font-size="12" fill="#000" stroke="#000" stroke-width="0.12" font-weight="bold" text-anchor="middle" textLength="20.2" lengthAdjust="spacingAndGlyphs">0.75</text>
<text transform="translate(434.5 541.9) rotate(-90)" font-size="12" fill="#000" stroke="#000" stroke-width="0.12" font-weight="bold" text-anchor="middle" textLength="20.2" lengthAdjust="spacingAndGlyphs">1.00</text>
<text transform="translate(423.9 603.05) rotate(-90)" font-size="10.9" fill="#000" stroke="#000" stroke-width="0.12" font-weight="bold" text-anchor="middle" textLength="48.4" lengthAdjust="spacingAndGlyphs">Sensitivity</text>
<text x="449.9" y="688.7" font-size="11.8" fill="#000" stroke="#000" stroke-width="0.12" font-weight="bold" text-anchor="middle" textLength="21.4" lengthAdjust="spacingAndGlyphs">0.00</text>
<text x="486.3" y="688.7" font-size="11.8" fill="#000" stroke="#000" stroke-width="0.12" font-weight="bold" text-anchor="middle" textLength="21.4" lengthAdjust="spacingAndGlyphs">0.25</text>
<text x="522.7" y="688.7" font-size="11.8" fill="#000" stroke="#000" stroke-width="0.12" font-weight="bold" text-anchor="middle" textLength="21.4" lengthAdjust="spacingAndGlyphs">0.50</text>
<text x="559.1" y="688.7" font-size="11.8" fill="#000" stroke="#000" stroke-width="0.12" font-weight="bold" text-anchor="middle" textLength="21.4" lengthAdjust="spacingAndGlyphs">0.75</text>
<text x="595.5" y="688.7" font-size="11.8" fill="#000" stroke="#000" stroke-width="0.12" font-weight="bold" text-anchor="middle" textLength="21.4" lengthAdjust="spacingAndGlyphs">1.00</text>
<text x="490.7" y="697.1" font-size="11.2" fill="#000" stroke="#000" stroke-width="0.12" font-weight="bold" textLength="65" lengthAdjust="spacingAndGlyphs">1 - Specificity</text>
<text x="444.7" y="709.9" font-size="8.9" fill="#000" stroke="#000" stroke-width="0.12" font-weight="bold" textLength="122.6" lengthAdjust="spacingAndGlyphs">Area under ROC curve = 0.8335</text>
<text x="570.4" y="709.9" font-size="10.6" fill="#000" stroke="#000" stroke-width="0.12" font-weight="bold" textLength="36.7" lengthAdjust="spacingAndGlyphs">p=0.34*</text>
<text x="436.4" y="526.9" font-size="9.6" fill="#3a4479" stroke="#3a4479" stroke-width="0.12" textLength="172.8" lengthAdjust="spacingAndGlyphs">Week 48 pharmacy refill gaps data (PR-gaps)</text>
</g>
<g>
<path d="M41.3 749.3V883.3M35.2 878H187.7M76.4 749.3V883.3M35.2 847.58H187.7M111.5 749.3V883.3M35.2 817.15H187.7M146.6 749.3V883.3M35.2 786.72H187.7M181.7 749.3V883.3M35.2 756.3H187.7" stroke="#eef4f6" stroke-width="1.6" fill="none"/>
<polyline points="41.3,878 41.3,847.5" fill="none" stroke="#19446e" stroke-width="1.35" stroke-linejoin="round" stroke-linecap="round"/>
<polyline points="48.8,847.5 48.8,832.3" fill="none" stroke="#19446e" stroke-width="1.35" stroke-linejoin="round" stroke-linecap="round"/>
<polyline points="77,832.3 83.2,817" fill="none" stroke="#19446e" stroke-width="1.1" stroke-linejoin="round" stroke-linecap="round"/>
<polyline points="89.5,817 110.6,786.5 133.7,786.4 157.5,756" fill="none" stroke="#19446e" stroke-width="1.1" stroke-linejoin="round" stroke-linecap="round"/>
<polyline points="39.6,847.5 49.6,847.5" fill="none" stroke="#19446e" stroke-width="3.6" stroke-linejoin="round" stroke-linecap="round"/>
<path d="M39.6 847.5h0M42.8 847.5h0M46 847.5h0M49.2 847.5h0M49.6 847.5h0" stroke="#19446e" stroke-width="4.3" stroke-linecap="round" fill="none"/>
<polyline points="48.2,832.3 77,832.3" fill="none" stroke="#19446e" stroke-width="3.6" stroke-linejoin="round" stroke-linecap="round"/>
<path d="M48.2 832.3h0M51.4 832.3h0M54.6 832.3h0M57.8 832.3h0M61 832.3h0M64.2 832.3h0M67.4 832.3h0M70.6 832.3h0M73.8 832.3h0M77 832.3h0M77 832.3h0" stroke="#19446e" stroke-width="4.3" stroke-linecap="round" fill="none"/>
<polyline points="82.6,817 89.5,817" fill="none" stroke="#19446e" stroke-width="3.6" stroke-linejoin="round" stroke-linecap="round"/>
<path d="M82.6 817h0M85.8 817h0M89 817h0M89.5 817h0" stroke="#19446e" stroke-width="4.3" stroke-linecap="round" fill="none"/>
<polyline points="110.9,786.4 116.9,786.4" fill="none" stroke="#19446e" stroke-width="3.6" stroke-linejoin="round" stroke-linecap="round"/>
<path d="M110.9 786.4h0M114.1 786.4h0M116.9 786.4h0" stroke="#19446e" stroke-width="4.3" stroke-linecap="round" fill="none"/>
<polyline points="128.3,786.4 133.7,786.4" fill="none" stroke="#19446e" stroke-width="3.6" stroke-linejoin="round" stroke-linecap="round"/>
<path d="M128.3 786.4h0M131.5 786.4h0M133.7 786.4h0" stroke="#19446e" stroke-width="4.3" stroke-linecap="round" fill="none"/>
<polyline points="158.6,756 182.2,756" fill="none" stroke="#19446e" stroke-width="3.6" stroke-linejoin="round" stroke-linecap="round"/>
<path d="M158.6 756h0M161.8 756h0M165 756h0M168.2 756h0M171.4 756h0M174.6 756h0M177.8 756h0M181 756h0M182.2 756h0" stroke="#19446e" stroke-width="4.3" stroke-linecap="round" fill="none"/>
<ellipse cx="41.3" cy="878" rx="2.8" ry="2.4" fill="#19446e"/>
<ellipse cx="121.5" cy="786.4" rx="2.8" ry="2.4" fill="#19446e"/>
<line x1="41.3" y1="878" x2="181.7" y2="756.3" stroke="#5d9589" stroke-width="1.2"/>
<path d="M34.5 749.8V884H187.7M30.7 878H34.5M41.3 884V887.6M30.7 847.58H34.5M76.4 884V887.6M30.7 817.15H34.5M111.5 884V887.6M30.7 786.72H34.5M146.6 884V887.6M30.7 756.3H34.5M181.7 884V887.6" stroke="#2a2a2a" stroke-width="1.35" fill="none"/>
<text transform="translate(24.8 878) rotate(-90)" font-size="12" fill="#000" stroke="#000" stroke-width="0.12" font-weight="bold" text-anchor="middle" textLength="20.2" lengthAdjust="spacingAndGlyphs">0.00</text>
<text transform="translate(24.8 847.58) rotate(-90)" font-size="12" fill="#000" stroke="#000" stroke-width="0.12" font-weight="bold" text-anchor="middle" textLength="20.2" lengthAdjust="spacingAndGlyphs">0.25</text>
<text transform="translate(24.8 817.15) rotate(-90)" font-size="12" fill="#000" stroke="#000" stroke-width="0.12" font-weight="bold" text-anchor="middle" textLength="20.2" lengthAdjust="spacingAndGlyphs">0.50</text>
<text transform="translate(24.8 786.72) rotate(-90)" font-size="12" fill="#000" stroke="#000" stroke-width="0.12" font-weight="bold" text-anchor="middle" textLength="20.2" lengthAdjust="spacingAndGlyphs">0.75</text>
<text transform="translate(24.8 756.3) rotate(-90)" font-size="12" fill="#000" stroke="#000" stroke-width="0.12" font-weight="bold" text-anchor="middle" textLength="20.2" lengthAdjust="spacingAndGlyphs">1.00</text>
<text transform="translate(13.2 817.15) rotate(-90)" font-size="10.9" fill="#000" stroke="#000" stroke-width="0.12" font-weight="bold" text-anchor="middle" textLength="48.4" lengthAdjust="spacingAndGlyphs">Sensitivity</text>
<text x="41" y="902.3" font-size="11.8" fill="#000" stroke="#000" stroke-width="0.12" font-weight="bold" text-anchor="middle" textLength="19.95" lengthAdjust="spacingAndGlyphs">0.00</text>
<text x="76.24" y="902.3" font-size="11.8" fill="#000" stroke="#000" stroke-width="0.12" font-weight="bold" text-anchor="middle" textLength="19.95" lengthAdjust="spacingAndGlyphs">0.25</text>
<text x="111.47" y="902.3" font-size="11.8" fill="#000" stroke="#000" stroke-width="0.12" font-weight="bold" text-anchor="middle" textLength="19.95" lengthAdjust="spacingAndGlyphs">0.50</text>
<text x="146.71" y="902.3" font-size="11.8" fill="#000" stroke="#000" stroke-width="0.12" font-weight="bold" text-anchor="middle" textLength="19.95" lengthAdjust="spacingAndGlyphs">0.75</text>
<text x="181.95" y="902.3" font-size="11.8" fill="#000" stroke="#000" stroke-width="0.12" font-weight="bold" text-anchor="middle" textLength="19.95" lengthAdjust="spacingAndGlyphs">1.00</text>
<text x="79.8" y="909.7" font-size="11.2" fill="#000" stroke="#000" stroke-width="0.12" font-weight="bold" textLength="64.3" lengthAdjust="spacingAndGlyphs">1 - Specificity</text>
<text x="35.3" y="924.2" font-size="8.9" fill="#000" stroke="#000" stroke-width="0.12" font-weight="bold" textLength="122.6" lengthAdjust="spacingAndGlyphs">Area under ROC curve = 0.6681</text>
<text x="159.4" y="924.2" font-size="10.6" fill="#000" stroke="#000" stroke-width="0.12" font-weight="bold" textLength="37.4" lengthAdjust="spacingAndGlyphs">p=0.02*</text>
<text x="66" y="741.4" font-size="9.6" fill="#3a4479" stroke="#3a4479" stroke-width="0.12" textLength="88.8" lengthAdjust="spacingAndGlyphs">Week 48 pill count data</text>
</g>
<g>
<path d="M247.5 749.3V883.3M241.3 878H394.4M282.73 749.3V883.3M241.3 847.58H394.4M317.95 749.3V883.3M241.3 817.15H394.4M353.17 749.3V883.3M241.3 786.72H394.4M388.4 749.3V883.3M241.3 756.3H394.4" stroke="#eef4f6" stroke-width="1.6" fill="none"/>
<polyline points="247.6,878 248.3,848 248.3,837.3" fill="none" stroke="#19446e" stroke-width="1.3" stroke-linejoin="round" stroke-linecap="round"/>
<polyline points="283.8,837.3 283.8,817" fill="none" stroke="#19446e" stroke-width="1.3" stroke-linejoin="round" stroke-linecap="round"/>
<polyline points="287.4,817 287.4,796.3" fill="none" stroke="#19446e" stroke-width="1.3" stroke-linejoin="round" stroke-linecap="round"/>
<polyline points="303.9,796.3 303.9,776.3" fill="none" stroke="#19446e" stroke-width="1.3" stroke-linejoin="round" stroke-linecap="round"/>
<polyline points="320.9,776.3 320.9,756" fill="none" stroke="#19446e" stroke-width="1.3" stroke-linejoin="round" stroke-linecap="round"/>
<polyline points="246.9,837.3 285.9,837.3" fill="none" stroke="#19446e" stroke-width="3.9" stroke-linejoin="round" stroke-linecap="round"/>
<path d="M246.9 837.3h0M250.1 837.3h0M253.3 837.3h0M256.5 837.3h0M259.7 837.3h0M262.9 837.3h0M266.1 837.3h0M269.3 837.3h0M272.5 837.3h0M275.7 837.3h0M278.9 837.3h0M282.1 837.3h0M285.3 837.3h0M285.9 837.3h0" stroke="#19446e" stroke-width="4.6" stroke-linecap="round" fill="none"/>
<polyline points="282.9,817 289,817" fill="none" stroke="#19446e" stroke-width="3.9" stroke-linejoin="round" stroke-linecap="round"/>
<path d="M282.9 817h0M286.1 817h0M289 817h0" stroke="#19446e" stroke-width="4.6" stroke-linecap="round" fill="none"/>
<polyline points="286.9,796.3 304.7,796.3" fill="none" stroke="#19446e" stroke-width="3.9" stroke-linejoin="round" stroke-linecap="round"/>
<path d="M286.9 796.3h0M290.1 796.3h0M293.3 796.3h0M296.5 796.3h0M299.7 796.3h0M302.9 796.3h0M304.7 796.3h0" stroke="#19446e" stroke-width="4.6" stroke-linecap="round" fill="none"/>
<polyline points="302.5,776.3 322.3,776.3" fill="none" stroke="#19446e" stroke-width="3.9" stroke-linejoin="round" stroke-linecap="round"/>
<path d="M302.5 776.3h0M305.7 776.3h0M308.9 776.3h0M312.1 776.3h0M315.3 776.3h0M318.5 776.3h0M321.7 776.3h0M322.3 776.3h0" stroke="#19446e" stroke-width="4.6" stroke-linecap="round" fill="none"/>
<polyline points="319.3,756 389.3,756" fill="none" stroke="#19446e" stroke-width="3.9" stroke-linejoin="round" stroke-linecap="round"/>
<path d="M319.3 756h0M322.5 756h0M325.7 756h0M328.9 756h0M332.1 756h0M335.3 756h0M338.5 756h0M341.7 756h0M344.9 756h0M348.1 756h0M351.3 756h0M354.5 756h0M357.7 756h0M360.9 756h0M364.1 756h0M367.3 756h0M370.5 756h0M373.7 756h0M376.9 756h0M380.1 756h0M383.3 756h0M386.5 756h0M389.3 756h0" stroke="#19446e" stroke-width="4.6" stroke-linecap="round" fill="none"/>
<ellipse cx="247.4" cy="877.9" rx="2.8" ry="2.4" fill="#19446e"/>
<line x1="247.5" y1="878" x2="388.4" y2="756.3" stroke="#5d9589" stroke-width="1.2"/>
<path d="M240.6 749.8V884H394.4M236.8 878H240.6M247.5 884V887.6M236.8 847.58H240.6M282.73 884V887.6M236.8 817.15H240.6M317.95 884V887.6M236.8 786.72H240.6M353.17 884V887.6M236.8 756.3H240.6M388.4 884V887.6" stroke="#2a2a2a" stroke-width="1.35" fill="none"/>
<text transform="translate(231.3 878) rotate(-90)" font-size="12" fill="#000" stroke="#000" stroke-width="0.12" font-weight="bold" text-anchor="middle" textLength="20.2" lengthAdjust="spacingAndGlyphs">0.00</text>
<text transform="translate(231.3 847.58) rotate(-90)" font-size="12" fill="#000" stroke="#000" stroke-width="0.12" font-weight="bold" text-anchor="middle" textLength="20.2" lengthAdjust="spacingAndGlyphs">0.25</text>
<text transform="translate(231.3 817.15) rotate(-90)" font-size="12" fill="#000" stroke="#000" stroke-width="0.12" font-weight="bold" text-anchor="middle" textLength="20.2" lengthAdjust="spacingAndGlyphs">0.50</text>
<text transform="translate(231.3 786.72) rotate(-90)" font-size="12" fill="#000" stroke="#000" stroke-width="0.12" font-weight="bold" text-anchor="middle" textLength="20.2" lengthAdjust="spacingAndGlyphs">0.75</text>
<text transform="translate(231.3 756.3) rotate(-90)" font-size="12" fill="#000" stroke="#000" stroke-width="0.12" font-weight="bold" text-anchor="middle" textLength="20.2" lengthAdjust="spacingAndGlyphs">1.00</text>
<text transform="translate(220 817.15) rotate(-90)" font-size="10.9" fill="#000" stroke="#000" stroke-width="0.12" font-weight="bold" text-anchor="middle" textLength="48.4" lengthAdjust="spacingAndGlyphs">Sensitivity</text>
<text x="246.9" y="902.3" font-size="11.8" fill="#000" stroke="#000" stroke-width="0.12" font-weight="bold" text-anchor="middle" textLength="20.6" lengthAdjust="spacingAndGlyphs">0.00</text>
<text x="282.15" y="902.3" font-size="11.8" fill="#000" stroke="#000" stroke-width="0.12" font-weight="bold" text-anchor="middle" textLength="20.6" lengthAdjust="spacingAndGlyphs">0.25</text>
<text x="317.4" y="902.3" font-size="11.8" fill="#000" stroke="#000" stroke-width="0.12" font-weight="bold" text-anchor="middle" textLength="20.6" lengthAdjust="spacingAndGlyphs">0.50</text>
<text x="352.65" y="902.3" font-size="11.8" fill="#000" stroke="#000" stroke-width="0.12" font-weight="bold" text-anchor="middle" textLength="20.6" lengthAdjust="spacingAndGlyphs">0.75</text>
<text x="387.9" y="902.3" font-size="11.8" fill="#000" stroke="#000" stroke-width="0.12" font-weight="bold" text-anchor="middle" textLength="20.6" lengthAdjust="spacingAndGlyphs">1.00</text>
<text x="285.7" y="909.7" font-size="11.2" fill="#000" stroke="#000" stroke-width="0.12" font-weight="bold" textLength="64.3" lengthAdjust="spacingAndGlyphs">1 - Specificity</text>
<text x="241.9" y="923.9" font-size="8.9" fill="#000" stroke="#000" stroke-width="0.12" font-weight="bold" textLength="122.5" lengthAdjust="spacingAndGlyphs">Area under ROC curve = 0.7544</text>
<text x="366" y="923.9" font-size="10.6" fill="#000" stroke="#000" stroke-width="0.12" font-weight="bold" textLength="36.1" lengthAdjust="spacingAndGlyphs">p=0.14*</text>
<text x="243.4" y="741.4" font-size="9.6" fill="#3a4479" stroke="#3a4479" stroke-width="0.12" textLength="146.3" lengthAdjust="spacingAndGlyphs">Week 48 log10 efavirenz concentration</text>
</g>
<g>
<path d="M455.2 749.3V883.3M448.9 878H600.8M490.1 749.3V883.3M448.9 847.58H600.8M525 749.3V883.3M448.9 817.15H600.8M559.9 749.3V883.3M448.9 786.72H600.8M594.8 749.3V883.3M448.9 756.3H600.8" stroke="#eef4f6" stroke-width="1.6" fill="none"/>
<polyline points="455.5,878.1 457.9,858.7" fill="none" stroke="#19446e" stroke-width="1.35" stroke-linejoin="round" stroke-linecap="round"/>
<polyline points="461.3,857.3 595,756.3" fill="none" stroke="#19446e" stroke-width="1.1" stroke-linejoin="round" stroke-linecap="round"/>
<polyline points="458.2,857.3 461.1,857.3" fill="none" stroke="#19446e" stroke-width="4.3" stroke-linejoin="round" stroke-linecap="round"/>
<path d="M458.2 857.3h0M461.1 857.3h0" stroke="#19446e" stroke-width="5.2" stroke-linecap="round" fill="none"/>
<ellipse cx="455.2" cy="878.1" rx="2.8" ry="2.4" fill="#19446e"/>
<ellipse cx="595" cy="756.3" rx="2.8" ry="2.4" fill="#19446e"/>
<line x1="455.2" y1="878" x2="594.8" y2="756.3" stroke="#5d9589" stroke-width="1.2"/>
<path d="M448.2 749.8V884H600.8M444.4 878H448.2M455.2 884V887.6M444.4 847.58H448.2M490.1 884V887.6M444.4 817.15H448.2M525 884V887.6M444.4 786.72H448.2M559.9 884V887.6M444.4 756.3H448.2M594.8 884V887.6" stroke="#2a2a2a" stroke-width="1.35" fill="none"/>
<text transform="translate(438.9 878) rotate(-90)" font-size="12" fill="#000" stroke="#000" stroke-width="0.12" font-weight="bold" text-anchor="middle" textLength="20.2" lengthAdjust="spacingAndGlyphs">0.00</text>
<text transform="translate(438.9 847.58) rotate(-90)" font-size="12" fill="#000" stroke="#000" stroke-width="0.12" font-weight="bold" text-anchor="middle" textLength="20.2" lengthAdjust="spacingAndGlyphs">0.25</text>
<text transform="translate(438.9 817.15) rotate(-90)" font-size="12" fill="#000" stroke="#000" stroke-width="0.12" font-weight="bold" text-anchor="middle" textLength="20.2" lengthAdjust="spacingAndGlyphs">0.50</text>
<text transform="translate(438.9 786.72) rotate(-90)" font-size="12" fill="#000" stroke="#000" stroke-width="0.12" font-weight="bold" text-anchor="middle" textLength="20.2" lengthAdjust="spacingAndGlyphs">0.75</text>
<text transform="translate(438.9 756.3) rotate(-90)" font-size="12" fill="#000" stroke="#000" stroke-width="0.12" font-weight="bold" text-anchor="middle" textLength="20.2" lengthAdjust="spacingAndGlyphs">1.00</text>
<text transform="translate(426.9 817.15) rotate(-90)" font-size="10.9" fill="#000" stroke="#000" stroke-width="0.12" font-weight="bold" text-anchor="middle" textLength="48.4" lengthAdjust="spacingAndGlyphs">Sensitivity</text>
<text x="454.05" y="902.3" font-size="11.8" fill="#000" stroke="#000" stroke-width="0.12" font-weight="bold" text-anchor="middle" textLength="20.5" lengthAdjust="spacingAndGlyphs">0.00</text>
<text x="489.3" y="902.3" font-size="11.8" fill="#000" stroke="#000" stroke-width="0.12" font-weight="bold" text-anchor="middle" textLength="20.5" lengthAdjust="spacingAndGlyphs">0.25</text>
<text x="524.55" y="902.3" font-size="11.8" fill="#000" stroke="#000" stroke-width="0.12" font-weight="bold" text-anchor="middle" textLength="20.5" lengthAdjust="spacingAndGlyphs">0.50</text>
<text x="559.8" y="902.3" font-size="11.8" fill="#000" stroke="#000" stroke-width="0.12" font-weight="bold" text-anchor="middle" textLength="20.5" lengthAdjust="spacingAndGlyphs">0.75</text>
<text x="595.05" y="902.3" font-size="11.8" fill="#000" stroke="#000" stroke-width="0.12" font-weight="bold" text-anchor="middle" textLength="20.5" lengthAdjust="spacingAndGlyphs">1.00</text>
<text x="492.8" y="909.7" font-size="11.2" fill="#000" stroke="#000" stroke-width="0.12" font-weight="bold" textLength="64.4" lengthAdjust="spacingAndGlyphs">1 - Specificity</text>
<text x="449" y="923.9" font-size="8.9" fill="#000" stroke="#000" stroke-width="0.12" font-weight="bold" textLength="122" lengthAdjust="spacingAndGlyphs">Area under ROC curve = 0.5685</text>
<text x="573.4" y="923.9" font-size="10.6" fill="#000" stroke="#000" stroke-width="0.12" font-weight="bold" textLength="38.9" lengthAdjust="spacingAndGlyphs">p=0&lt;01*</text>
<text x="466.9" y="741.4" font-size="9.6" fill="#3a4479" stroke="#3a4479" stroke-width="0.12" textLength="114.2" lengthAdjust="spacingAndGlyphs">Week 48 3-day self-recall data</text>
</g>
</svg></body></html>
